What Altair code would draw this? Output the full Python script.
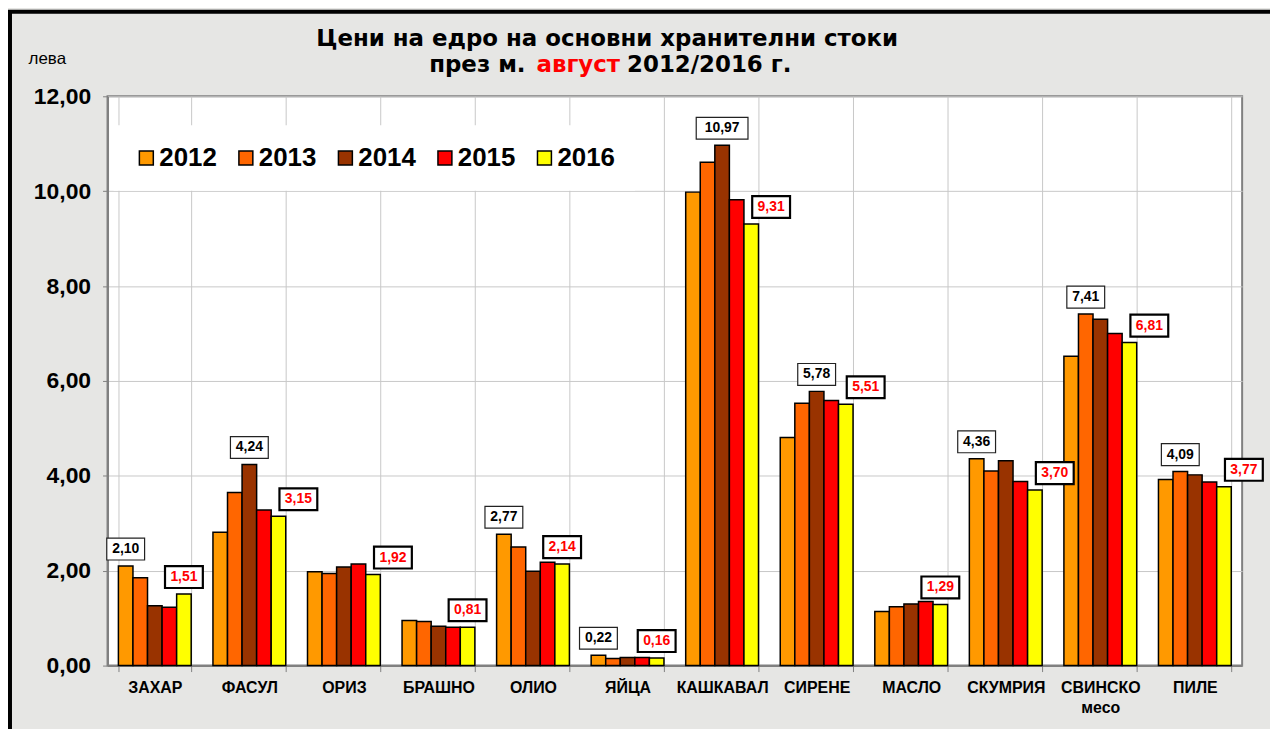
import altair as alt
import pandas as pd

FONT = "Liberation Sans"
TFONT = "DejaVu Sans"

categories = ["ЗАХАР", "ФАСУЛ", "ОРИЗ", "БРАШНО", "ОЛИО", "ЯЙЦА", "КАШКАВАЛ",
              "СИРЕНЕ", "МАСЛО", "СКУМРИЯ", "СВИНСКО месо", "ПИЛЕ"]
years = ["2012", "2013", "2014", "2015", "2016"]
colors = ["#FF9900", "#FF6600", "#993300", "#FF0000", "#FFFF00"]

v2012 = [2.10, 2.81, 1.98, 0.95, 2.77, 0.22, 9.98, 4.81, 1.14, 4.36, 6.52, 3.92]
v2013 = [1.85, 3.65, 1.94, 0.93, 2.50, 0.15, 10.61, 5.53, 1.24, 4.10, 7.41, 4.09]
v2014 = [1.26, 4.24, 2.08, 0.83, 1.99, 0.17, 10.97, 5.78, 1.30, 4.32, 7.30, 4.02]
v2015 = [1.23, 3.28, 2.14, 0.81, 2.18, 0.17, 9.82, 5.59, 1.35, 3.88, 7.00, 3.87]
v2016 = [1.51, 3.15, 1.92, 0.81, 2.14, 0.16, 9.31, 5.51, 1.29, 3.70, 6.81, 3.77]

# year whose value gets a black label (peak), per category
peak_year = ["2012", "2014", None, None, "2012", "2012", "2014", "2014", None,
             "2012", "2013", "2013"]

series = dict(zip(years, [v2012, v2013, v2014, v2015, v2016]))

rows = []
for y in years:
    for c, v in zip(categories, series[y]):
        rows.append({"cat": c, "year": y, "value": v})
df = pd.DataFrame(rows)


def fmt(v):
    return f"{v:.2f}".replace(".", ",")


lab = []
for i, c in enumerate(categories):
    py = peak_year[i]
    if py is not None:
        v = series[py][i]
        lab.append({"cat": c, "year": py, "value": v, "txt": fmt(v), "kind": "peak",
                    "shift": 0})
    v = v2016[i]
    # last-year label is pushed aside when the 2015 bar would be hidden by it
    sh = 1 if v2015[i] - v > 0.07 else 0
    lab.append({"cat": c, "year": "2016", "value": v, "txt": fmt(v), "kind": "last",
                "shift": sh})
ldf = pd.DataFrame(lab)
ldf["shape"] = [("w" if len(t) > 4 else "n") + ("r" if s else "")
                for t, s in zip(ldf["txt"], ldf["shift"])]

X = alt.X("cat:N", sort=categories, title=None,
          scale=alt.Scale(paddingInner=0.23, paddingOuter=0.115),
          axis=alt.Axis(labelAngle=0, labelFont=FONT, labelFontSize=16,
                        labelFontWeight="bold", labelColor="black",
                        labelExpr="split(datum.label, ' ')", labelLineHeight=20,
                        labelBaseline="top", labelPadding=8, labelOverlap=False,
                        labelLimit=200,
                        tickBand="extent", tickSize=6, tickColor="#808080",
                        domainColor="#808080", domainWidth=2,
                        grid=True, gridColor="#c8c8c8", gridWidth=1))
XO = alt.XOffset("year:N", scale=alt.Scale(domain=years, paddingInner=0, paddingOuter=0))
Y = alt.Y("value:Q", title="лева",
          scale=alt.Scale(domain=[0, 12], nice=False, zero=True),
          axis=alt.Axis(values=[0, 2, 4, 6, 8, 10, 12],
                        labelExpr="replace(format(datum.value, '.2f'), '.', ',')",
                        labelFont=FONT, labelFontSize=23, labelFontWeight="bold",
                        labelColor="black", labelPadding=12,
                        tickSize=5, tickColor="#808080",
                        domainColor="#808080", domainWidth=2,
                        grid=True, gridColor="#c8c8c8", gridWidth=1,
                        titleAngle=0, titleX=-61, titleY=-38, titleAlign="center",
                        titleBaseline="middle", titleFont=FONT, titleFontSize=17,
                        titleFontWeight="normal", titleColor="black"))

bars = alt.Chart(df).mark_bar(stroke="black", strokeWidth=1.5).encode(
    x=X, xOffset=XO, y=Y,
    color=alt.Color("year:N", scale=alt.Scale(domain=years, range=colors),
                    legend=alt.Legend(title=None, orient="none", direction="horizontal",
                                      legendX=6, legendY=29, padding=20,
                                      fillColor="white", symbolType="square",
                                      symbolSize=196, symbolStrokeColor="black",
                                      symbolStrokeWidth=1.5, labelOffset=0,
                                      columnPadding=16, labelFont=FONT,
                                      labelFontSize=26, labelFontWeight="bold",
                                      labelColor="black")),
)

SH = 0.769  # 20 px in path units (size 2704 -> 26 px per unit)


def box(hw, dx=0.0):
    l, r = -hw + dx, hw + dx
    return f"M{l:.3f},-0.423L{r:.3f},-0.423L{r:.3f},0.423L{l:.3f},0.423Z"


shape_keys = ["n", "w", "nr", "wr"]
shape_paths = [box(0.731), box(1.0), box(0.731, SH), box(1.0, SH)]

boxes = alt.Chart(ldf).mark_point(filled=True, fill="white", size=2704,
                                  opacity=1, yOffset=-17).encode(
    x=X, xOffset=XO, y=Y,
    shape=alt.Shape("shape:N", scale=alt.Scale(domain=shape_keys, range=shape_paths),
                    legend=None),
    stroke=alt.condition("datum.kind == 'last'", alt.value("black"), alt.value("#222222")),
    strokeWidth=alt.condition("datum.kind == 'last'", alt.value(2.2), alt.value(1.2)),
)


def label_layer(shifted):
    return alt.Chart(ldf).transform_filter(f"datum.shift == {shifted}").mark_text(
        font=FONT, fontSize=14, fontWeight="bold", baseline="middle", align="center",
        yOffset=-17, dx=20 if shifted else 0).encode(
        x=X, xOffset=XO, y=Y, text="txt:N",
        color=alt.condition("datum.kind == 'last'", alt.value("#FF0000"),
                            alt.value("black")),
    )


texts_c = label_layer(0)
texts_r = label_layer(1)

one = pd.DataFrame({"a": [0]})
title1 = alt.Chart(one).mark_text(text="Цени на едро на основни хранителни стоки",
                                  font=TFONT, fontSize=23, fontWeight="bold",
                                  align="center", baseline="alphabetic", color="black").encode(
    x=alt.value(502), y=alt.value(-51))
t2a = alt.Chart(one).mark_text(text="през м.", font=TFONT, fontSize=23, fontWeight="bold",
                               align="right", baseline="alphabetic", color="black").encode(
    x=alt.value(420), y=alt.value(-24))
t2b = alt.Chart(one).mark_text(text="август", font=TFONT, fontSize=23, fontWeight="bold",
                               align="center", baseline="alphabetic", color="#FF0000").encode(
    x=alt.value(473), y=alt.value(-24))
t2c = alt.Chart(one).mark_text(text="2012/2016 г.", font=TFONT, fontSize=23, fontWeight="bold",
                               align="left", baseline="alphabetic", color="black").encode(
    x=alt.value(522), y=alt.value(-24))

border = alt.Chart(one).mark_rect(fillOpacity=0, stroke="black", strokeWidth=4).encode(
    x=alt.value(-98), y=alt.value(-85), x2=alt.value(1400), y2=alt.value(800))

chart = alt.layer(bars, boxes, texts_c, texts_r, title1, t2a, t2b, t2c, border).properties(
    width=1140, height=572,
    padding={"left": 100, "top": 87, "right": 28, "bottom": 62},
    autosize=alt.AutoSizeParams(type="none"),
    background="#e6e6e4",
).configure_view(fill="white", stroke="#808080", strokeWidth=2)

chart.save("out.html", embed_options={"renderer": "svg", "actions": False})
